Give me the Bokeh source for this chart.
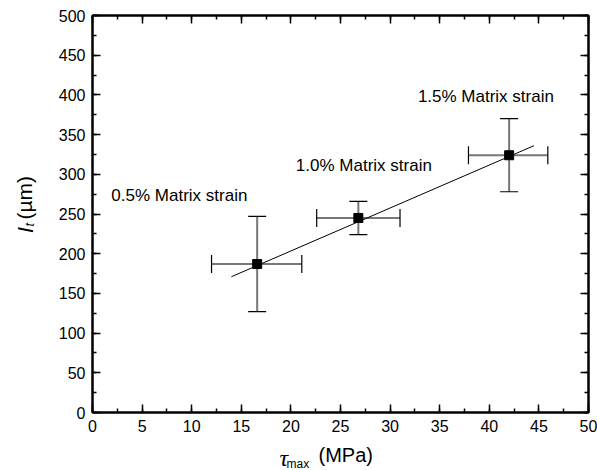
import math
from bokeh.plotting import figure
from bokeh.models import (ColumnDataSource, Whisker, TeeHead, LinearAxis,
                          SingleIntervalTicker, Label, CustomJSTickFormatter)
from bokeh.core.properties import value
from bokeh.embed import file_html
from bokeh.resources import INLINE

# ---- data ----
tau_max = [16.6, 26.8, 42.0]          # MPa
lt = [187, 245, 324]                   # um
tau_lo = [12.0, 22.6, 37.9]
tau_hi = [21.1, 31.0, 45.9]
lt_lo = [127, 224, 278]
lt_hi = [247, 266, 370]

fit_x = [14.0, 44.5]
fit_y = [171, 336]

label_x = [1.9, 20.5, 32.8]
label_y = [273, 311, 398]
label_text = ["0.5% Matrix strain", "1.0% Matrix strain", "1.5% Matrix strain"]

FONT = "Liberation Sans"

p = figure(width=597, height=470, x_range=(0, 50), y_range=(0, 500),
           output_backend="svg", toolbar_location=None,
           min_border_left=91, min_border_top=15, min_border_right=9,
           min_border_bottom=58)
p.xgrid.visible = False
p.ygrid.visible = False
p.outline_line_color = "black"
p.outline_line_width = 2

xt = SingleIntervalTicker(interval=5, num_minor_ticks=2)
yt = SingleIntervalTicker(interval=50, num_minor_ticks=2)
p.xaxis.ticker = xt
p.yaxis.ticker = yt
blank = CustomJSTickFormatter(code="return ''")
p.add_layout(LinearAxis(ticker=xt, formatter=blank), "above")
p.add_layout(LinearAxis(ticker=yt, formatter=blank), "right")

for ax in p.axis:
    ax.axis_line_color = "black"
    ax.axis_line_width = 2
    ax.major_tick_in = 8
    ax.major_tick_out = 0
    ax.minor_tick_in = 4
    ax.minor_tick_out = 0
    ax.major_tick_line_width = 1.5
    ax.minor_tick_line_width = 1.5
    ax.major_tick_line_color = "black"
    ax.minor_tick_line_color = "black"
    ax.major_label_text_font = FONT
    ax.major_label_text_font_size = "16px"
    ax.major_label_text_color = "black"
    ax.major_label_standoff = 7

p.xaxis[0].major_label_standoff = 9
for ax in p.above + p.right:
    ax.major_label_standoff = 0

src = ColumnDataSource(dict(x=tau_max, y=lt, xlo=tau_lo, xhi=tau_hi,
                            ylo=lt_lo, yhi=lt_hi))

# fit line
p.line(fit_x, fit_y, line_color="black", line_width=1)

# error bars
def tee():
    return TeeHead(size=18, line_color="black", line_width=1.2)

p.add_layout(Whisker(source=src, base="x", lower="ylo", upper="yhi", dimension="height",
                     line_color="#777777", line_width=2, upper_head=tee(), lower_head=tee()))
p.add_layout(Whisker(source=src, base="y", lower="xlo", upper="xhi", dimension="width",
                     line_color="#777777", line_width=2, upper_head=tee(), lower_head=tee()))

p.scatter("x", "y", source=src, marker="square", size=9, color="black")

p.text(x=label_x, y=label_y, text=label_text, text_font=value(FONT),
       text_font_size="17px", text_baseline="middle", text_align="left",
       text_color="black")

# axis titles: labels living in side panels (screen units relative to own panel;
# panels stack outward from the frame in the order they are added)
def lab(place, x, y, text, size, style="normal", font=FONT, angle=0.0):
    p.add_layout(Label(x=x, y=y, x_units="screen", y_units="screen", text=text,
                       text_font=font, text_font_size=size, text_font_style=style,
                       angle=angle, text_align="left", text_baseline="alphabetic",
                       text_color="black"), place)

# x title: tau_max (MPa)
lab("below", 226, 2, "(MPa)", "20px")
# left panel, in order outward: (um), tau, max
lab("left", -8, 193, "(\u00b5m)", "21px", angle=math.pi / 2)
lab("left", 256, -45, "\u03c4", "24px", style="italic", font="Liberation Serif")
lab("left", 286, -51, "max", "12px")
# y title italic l with subscript t
lab("above", -67, -217, "l", "21px", style="italic", angle=math.pi / 2)
lab("above", -63, -216, "t", "13px", style="italic", angle=math.pi / 2)

open("out.html", "w").write(file_html(p, INLINE))
